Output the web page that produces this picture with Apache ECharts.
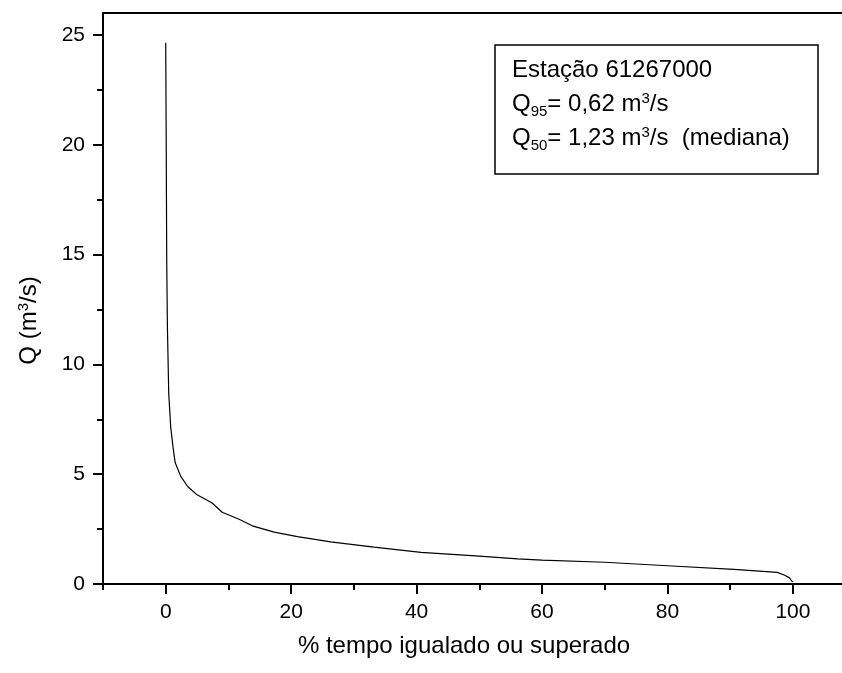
<!DOCTYPE html>
<html>
<head>
<meta charset="utf-8">
<script src="https://cdn.jsdelivr.net/npm/echarts@6/dist/echarts.min.js"></script>
<style>
  html, body { margin: 0; padding: 0; background: #fff; }
  #chart { width: 842px; height: 673px; }
</style>
</head>
<body>
<div id="chart"></div>
<script>
// curva de permanencia - estacao 61267000
var pct = [0, 0.08, 0.16, 0.27, 0.48, 0.8, 1.17, 1.5, 2.4, 3.5, 5.0, 7.4, 9.0, 11.7, 13.8, 17.3, 21.0, 26.3, 33.2, 40.7, 50, 56.1, 60, 70, 80, 90.6, 97.5, 98.6, 99.4, 99.8, 100];
var vazao = [24.65, 20.0, 14.7, 11.7, 8.67, 7.13, 6.22, 5.53, 4.9, 4.44, 4.06, 3.69, 3.27, 2.95, 2.65, 2.36, 2.16, 1.92, 1.68, 1.44, 1.27, 1.14, 1.09, 0.99, 0.83, 0.67, 0.53, 0.41, 0.29, 0.14, 0.1];

var xTicks = [0, 20, 40, 60, 80, 100];
var xMinorTicks = [-10, 10, 30, 50, 70, 90];
var yTicks = [0, 5, 10, 15, 20, 25];
var yMinorTicks = [2.5, 7.5, 12.5, 17.5, 22.5];

var fonte = 'Liberation Sans, Arial, sans-serif';

var serie = pct.map(function (p, i) { return [p, vazao[i]]; });

var option = {
    animation: false,
    backgroundColor: '#fff',
    grid: {
        left: 103,
        top: 13,
        width: 742,
        bottom: 89,
        outerBoundsMode: 'none',
        containLabel: false,
        show: true,
        borderColor: '#000',
        borderWidth: 2,
        backgroundColor: 'transparent'
    },
    xAxis: [
        {
            type: 'value',
            position: 'bottom',
            min: -10,
            max: 108.3,
            name: '% tempo igualado ou superado',
            nameLocation: 'middle',
            nameGap: 50,
            nameTextStyle: { fontSize: 24, color: '#000', fontFamily: fonte, padding: [0, 20, 0, 0] },
            axisLine: { onZero: false, lineStyle: { color: '#000', width: 2 } },
            axisTick: { inside: false, length: 10, lineStyle: { color: '#000', width: 2 }, customValues: xTicks },
            axisLabel: { fontSize: 21, color: '#000', fontFamily: fonte, margin: 18, customValues: xTicks },
            splitLine: { show: false }
        },
        {
            type: 'value',
            position: 'bottom',
            min: -10,
            max: 108.3,
            axisLine: { show: false, onZero: false },
            axisTick: { inside: false, length: 6, lineStyle: { color: '#000', width: 2 }, customValues: xMinorTicks },
            axisLabel: { show: false },
            splitLine: { show: false }
        }
    ],
    yAxis: [
        {
            type: 'value',
            position: 'left',
            min: 0,
            max: 26,
            name: '{t|Q (m}{sup|3}{t|/s)}',
            nameLocation: 'middle',
            nameGap: 60,
            nameTextStyle: {
                color: '#000',
                fontFamily: fonte,
                padding: [0, 44, 0, 0],
                rich: {
                    t: { fontSize: 24, color: '#000', fontFamily: fonte },
                    sup: { fontSize: 15, color: '#000', fontFamily: fonte, padding: [0, 0, 12, 0] }
                }
            },
            axisLine: { onZero: false, lineStyle: { color: '#000', width: 2 } },
            axisTick: { inside: false, length: 10, lineStyle: { color: '#000', width: 2 }, customValues: yTicks },
            axisLabel: { fontSize: 21, color: '#000', fontFamily: fonte, margin: 18, customValues: yTicks },
            splitLine: { show: false }
        },
        {
            type: 'value',
            position: 'left',
            min: 0,
            max: 26,
            axisLine: { show: false, onZero: false },
            axisTick: { inside: false, length: 6, lineStyle: { color: '#000', width: 2 }, customValues: yMinorTicks },
            axisLabel: { show: false },
            splitLine: { show: false }
        }
    ],
    graphic: [
        {
            type: 'rect',
            shape: { x: 495, y: 45, width: 323, height: 129 },
            style: { fill: '#fff', stroke: '#000', lineWidth: 1.5 },
            z: 100
        },
        {
            type: 'text',
            x: 512,
            y: 53,
            z: 101,
            style: {
                text: '{t|Estação 61267000}\n{t|Q}{sub|95}{t|= 0,62 m}{sup|3}{t|/s}\n{t|Q}{sub|50}{t|= 1,23 m}{sup|3}{t|/s  (mediana)}',
                fill: '#000',
                rich: {
                    t: { fontSize: 24, lineHeight: 34, fontFamily: fonte, fill: '#000' },
                    sub: { fontSize: 15, fontFamily: fonte, fill: '#000', padding: [15, 0, 0, 0] },
                    sup: { fontSize: 15, fontFamily: fonte, fill: '#000', padding: [0, 0, 10, 0] }
                }
            }
        }
    ],
    series: [
        {
            type: 'line',
            xAxisIndex: 0,
            yAxisIndex: 0,
            data: serie,
            showSymbol: false,
            symbol: 'none',
            smooth: false,
            lineStyle: { color: '#000', width: 1.2 }
        }
    ]
};

echarts.init(document.getElementById('chart')).setOption(option);
</script>
</body>
</html>
